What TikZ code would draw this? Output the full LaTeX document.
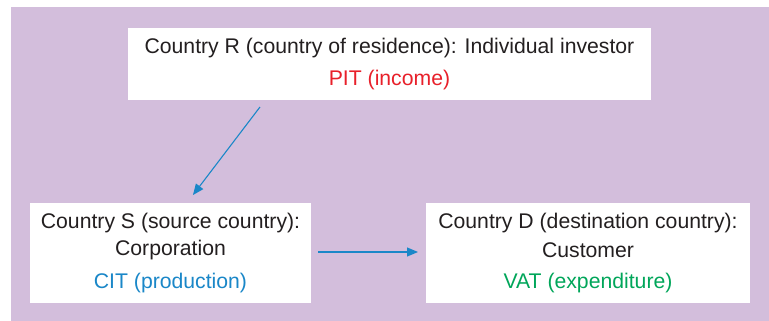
\documentclass[tikz,border=0pt]{standalone}
\usepackage{fontspec}
\setmainfont{Liberation Sans}
\usetikzlibrary{arrows.meta}
\definecolor{bgpurple}{HTML}{D3BEDC}
\definecolor{txtdark}{HTML}{231F20}
\definecolor{pitred}{HTML}{E8202A}
\definecolor{citblue}{HTML}{1A87C8}
\definecolor{vatgreen}{HTML}{00A65A}
\tikzset{
  box/.style={fill=white, draw=none},
  lbl/.style={text=txtdark, font=\fontsize{21.2}{24}\selectfont, inner sep=0pt, anchor=center},
  tax/.style={font=\fontsize{21.2}{24}\selectfont, inner sep=0pt, anchor=center},
  flow/.style={draw=citblue, line width=1.1pt, -{Triangle[length=11pt,width=9pt]}}
}
\begin{document}
\begin{tikzpicture}[x=1pt,y=-1pt]
\useasboundingbox (0,0) rectangle (769,321);
\fill[bgpurple] (11,7) rectangle (769,321);
% boxes
\node[box, minimum width=523pt, minimum height=72pt, inner sep=0pt] (R) at (389.5,64) {};
\node[box, minimum width=281pt, minimum height=100pt, inner sep=0pt] (S) at (170.5,253) {};
\node[box, minimum width=324pt, minimum height=100pt, inner sep=0pt] (D) at (588,253) {};
% texts
\node[lbl] (Rt) at (389.5,48) {Country R (country of residence): Individual investor};
\node[tax, text=pitred] (Rx) at (389.5,80) {PIT (income)};
\node[lbl] (St1) at (170.5,223) {Country S (source country):};
\node[lbl] (St2) at (170.5,250) {Corporation};
\node[tax, text=citblue] (Sx) at (170.5,283) {CIT (production)};
\node[lbl] (Dt1) at (588,223) {Country D (destination country):};
\node[lbl] (Dt2) at (588,250) {Customer};
\node[tax, text=vatgreen] (Dx) at (588,283) {VAT (expenditure)};
% connectors
\coordinate (a1) at (265.3,100);
\coordinate (b1) at (186.9,203);
\draw[flow, shorten <=8.8pt, shorten >=10pt] (a1) -- (b1);
\coordinate (a2) at (311,252);
\coordinate (b2) at (426,252);
\draw[flow, shorten <=7pt, shorten >=8pt] (a2) -- (b2);
\end{tikzpicture}
\end{document}
